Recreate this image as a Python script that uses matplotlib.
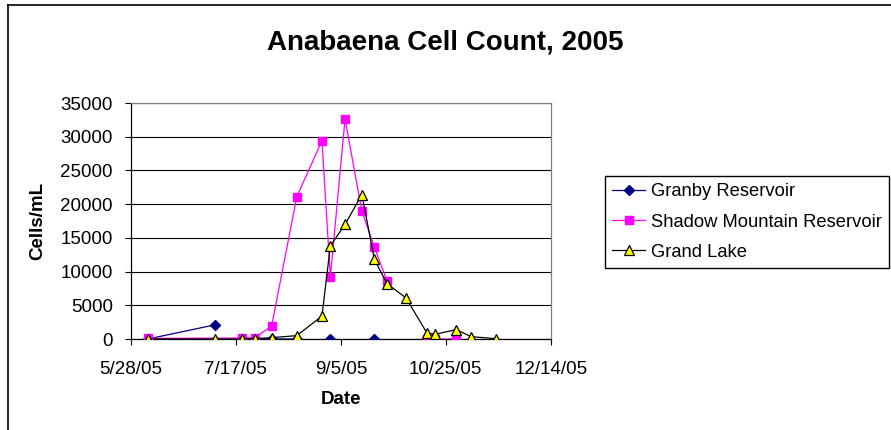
import numpy as np
import pandas as pd
import matplotlib
matplotlib.use("Agg")
import matplotlib.pyplot as plt
from matplotlib.lines import Line2D

plt.rcParams['font.family'] = ['Liberation Sans', 'DejaVu Sans']

# ---------------- data ----------------
title = "Anabaena Cell Count, 2005"
x_label = "Date"
y_label = "Cells/mL"

granby_name = "Granby Reservoir"
granby_dates = ['2005-06-05', '2005-07-07', '2005-07-20', '2005-07-26', '2005-08-03',
                '2005-08-15', '2005-08-27', '2005-08-31', '2005-09-07', '2005-09-21']
granby_vals = [0, 2100, np.nan, 0, 0, 0, np.nan, 0, np.nan, 0]

shadow_name = "Shadow Mountain Reservoir"
shadow_dates = ['2005-06-05', '2005-07-20', '2005-07-26', '2005-08-03', '2005-08-15',
                '2005-08-27', '2005-08-31', '2005-09-07', '2005-09-15', '2005-09-21',
                '2005-09-27', '2005-10-06', '2005-10-16', '2005-10-20', '2005-10-30']
shadow_vals = [100, 150, 200, 1900, 21100, 29400, 9200, 32600, 19000, 13600,
               8600, np.nan, 0, 0, 0]

grand_name = "Grand Lake"
grand_dates = ['2005-06-05', '2005-07-07', '2005-07-20', '2005-07-26', '2005-08-03',
               '2005-08-15', '2005-08-27', '2005-08-31', '2005-09-07', '2005-09-15',
               '2005-09-21', '2005-09-27', '2005-10-06', '2005-10-16', '2005-10-20',
               '2005-10-30', '2005-11-06', '2005-11-18']
grand_vals = [0, 0, 0, 50, 200, 500, 3400, 13800, 17000, 21400,
              11800, 8200, 6100, 900, 700, 1400, 350, 50]

x_tick_dates = ['2005-05-28', '2005-07-17', '2005-09-05', '2005-10-25', '2005-12-14']
x_tick_labels = ['5/28/05', '7/17/05', '9/5/05', '10/25/05', '12/14/05']
y_ticks = [0, 5000, 10000, 15000, 20000, 25000, 30000, 35000]

# ---------------- figure ----------------
W, H = 891, 430
fig = plt.figure(figsize=(W / 100, H / 100), dpi=100)
fig.patch.set_facecolor('white')

L, R, T, B = 131, 550.7, 103, 339
ax = fig.add_axes([L / W, 1 - B / H, (R - L) / W, (B - T) / H])

FS = 13.5

ax.plot(pd.to_datetime(granby_dates), granby_vals, color='#000080', lw=0.9,
        marker='D', ms=5, mfc='#000080', mec='#000080', label=granby_name, zorder=3)
ax.plot(pd.to_datetime(shadow_dates), shadow_vals, color='#FF00FF', lw=0.9,
        marker='s', ms=5.5, mfc='#FF00FF', mec='#FF00FF', label=shadow_name, zorder=4)
ax.plot(pd.to_datetime(grand_dates), grand_vals, color='black', lw=0.9,
        marker='^', ms=7, mfc='#FFFF00', mec='black', mew=0.9, label=grand_name, zorder=5)

xt = pd.to_datetime(x_tick_dates)
ax.set_xlim(xt[0], xt[-1])
ax.set_xticks(xt)
ax.set_xticklabels(x_tick_labels)
ax.set_ylim(0, 35000)
ax.set_yticks(y_ticks)
ax.set_yticklabels([str(v) for v in y_ticks])

ax.grid(axis='y', color='black', lw=0.8, zorder=0)
ax.set_axisbelow(True)
for s in ['top', 'right']:
    ax.spines[s].set_color('#808080')
    ax.spines[s].set_linewidth(0.9)
for s in ['left', 'bottom']:
    ax.spines[s].set_color('black')
    ax.spines[s].set_linewidth(0.9)

ax.tick_params(axis='both', direction='out', length=4, width=0.8, color='black',
               labelsize=FS)
ax.tick_params(axis='y', pad=9)
ax.tick_params(axis='x', pad=12)

ax.set_xlabel(x_label, fontsize=FS, fontweight='bold')
ax.xaxis.set_label_coords(0.5, (B - 400) / (B - T))
ax.xaxis.label.set_va('center')
ax.set_ylabel(y_label, fontsize=FS, fontweight='bold')
ax.yaxis.set_label_coords((38 - L) / (R - L), 0.5)
ax.yaxis.label.set_va('center')

fig.text(445 / W, 1 - 43 / H, title, ha='center', va='center',
         fontsize=20, fontweight='bold')

leg = fig.legend(loc='upper left', bbox_to_anchor=(605 / W, 1 - 176 / H),
                 bbox_transform=fig.transFigure, borderaxespad=0,
                 fontsize=13.2, frameon=True, fancybox=False, framealpha=1,
                 edgecolor='black', borderpad=0.4, labelspacing=0.72,
                 handlelength=1.8, handletextpad=0.3)
leg.get_frame().set_linewidth(1.0)

# outer chart border (left and top edges)
fig.add_artist(Line2D([7.5 / W, 7.5 / W], [0, 1 - 5 / H], color='black', lw=1.2,
                      transform=fig.transFigure))
fig.add_artist(Line2D([7.5 / W, 1], [1 - 5 / H, 1 - 5 / H], color='black', lw=1.2,
                      transform=fig.transFigure))

fig.savefig('out.png', dpi=100)
